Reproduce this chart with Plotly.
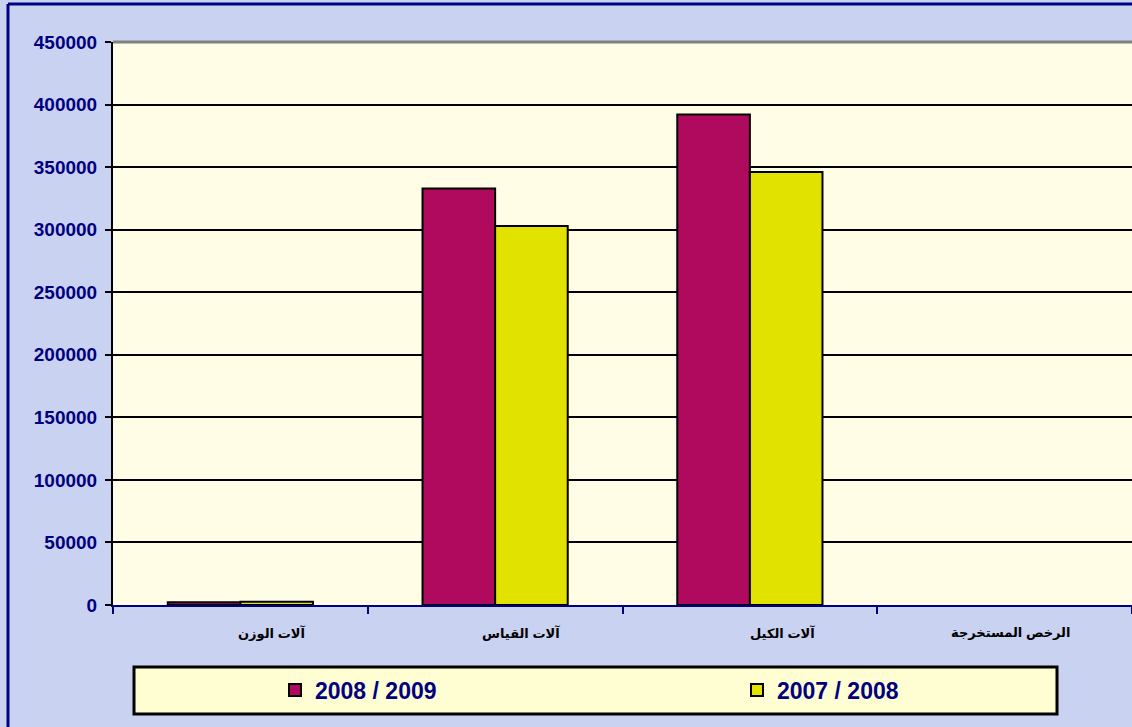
import plotly.graph_objects as go

# Categories and values.
categories = ['آلات الوزن', 'آلات القياس', 'آلات الكيل', 'الرخص المستخرجة']
series_names = ['2008 / 2009', '2007 / 2008']
values_0809 = [2200, 333000, 392000, 0]
values_0708 = [2500, 303000, 346000, 0]
y_ticks = list(range(0, 450001, 50000))

NAVY = '#000080'
FONT = 'Arial, Liberation Sans, DejaVu Sans, sans-serif'

# Figure pixel -> paper coordinate helpers (plot area 113..1132 x 42..605).
L, R, T, B = 113, 1132, 42, 605


def px(x):
    return (x - L) / (R - L)


def py(y):
    return (B - y) / (B - T)


# No outline on empty bars.
def outline(values):
    return [2 if v > 0 else 0 for v in values]


data = []

# Add the 2008/2009 series.
data.append(
    go.Bar(
        x=categories,
        y=values_0809,
        name=series_names[0],
        legend='legend',
        marker=dict(color='#b00a5e', line=dict(color='black', width=outline(values_0809))),
    )
)

# Add the 2007/2008 series.
data.append(
    go.Bar(
        x=categories,
        y=values_0708,
        name=series_names[1],
        legend='legend2',
        marker=dict(color='#e2e200', line=dict(color='black', width=outline(values_0708))),
    )
)

# Category labels, right-aligned in a box centred on each category (as in the original).
annotations = [
    dict(
        x=c, xref='x', y=py(633), yref='paper',
        text=c, showarrow=False,
        xanchor='right', yanchor='middle', xshift=67,
        font=dict(family=FONT, size=13, color='black', weight='bold'),
    )
    for c in categories
]

legend_style = dict(
    orientation='h',
    xanchor='left',
    y=py(690),
    yanchor='middle',
    bgcolor='rgba(0,0,0,0)',
    font=dict(family=FONT, size=23, color=NAVY, weight='bold'),
)

layout = dict(
    width=1132,
    height=727,
    paper_bgcolor='#c9d2f1',
    plot_bgcolor='#fffde6',
    margin=dict(t=T, r=0, b=727 - B, l=L, pad=0),
    barmode='group',
    bargap=0.43,
    bargroupgap=0,
    font=dict(family=FONT, color=NAVY),
    xaxis=dict(
        type='category',
        tickson='boundaries',
        ticks='outside',
        ticklen=7,
        tickwidth=2,
        tickcolor=NAVY,
        showline=True,
        linecolor=NAVY,
        linewidth=2,
        showgrid=False,
        showticklabels=False,
        fixedrange=True,
    ),
    yaxis=dict(
        range=[0, 450000],
        tickvals=y_ticks,
        ticktext=[str(v) for v in y_ticks],
        ticks='outside',
        ticklen=6,
        tickwidth=2,
        tickcolor='black',
        showline=True,
        linecolor='black',
        linewidth=2,
        showgrid=True,
        gridcolor='black',
        gridwidth=2,
        zeroline=False,
        ticklabelstandoff=4,
        tickfont=dict(family=FONT, size=19, color=NAVY, weight='bold'),
        fixedrange=True,
    ),
    legend=dict(legend_style, x=px(275)),
    legend2=dict(legend_style, x=px(737)),
    showlegend=True,
    annotations=annotations,
    shapes=[
        # legend box
        dict(type='rect', xref='paper', yref='paper',
             x0=px(134), x1=px(1057), y0=py(667), y1=py(714),
             fillcolor='#fffdd2', line=dict(color='black', width=3), layer='below'),
        # gray top border of the plot area
        dict(type='line', xref='paper', yref='paper',
             x0=0, x1=1, y0=1, y1=1, line=dict(color='#808080', width=3)),
        # outer navy frame
        dict(type='line', xref='paper', yref='paper',
             x0=px(8), x1=px(8), y0=py(4), y1=py(727), line=dict(color=NAVY, width=3)),
        dict(type='line', xref='paper', yref='paper',
             x0=px(8), x1=1, y0=py(4), y1=py(4), line=dict(color=NAVY, width=3)),
    ],
)

fig = go.Figure(data=data, layout=layout)
fig.write_html(
    'out.html',
    config=dict(displayModeBar=False),
    post_script="document.body.style.margin='0';document.body.style.overflow='hidden';",
)
